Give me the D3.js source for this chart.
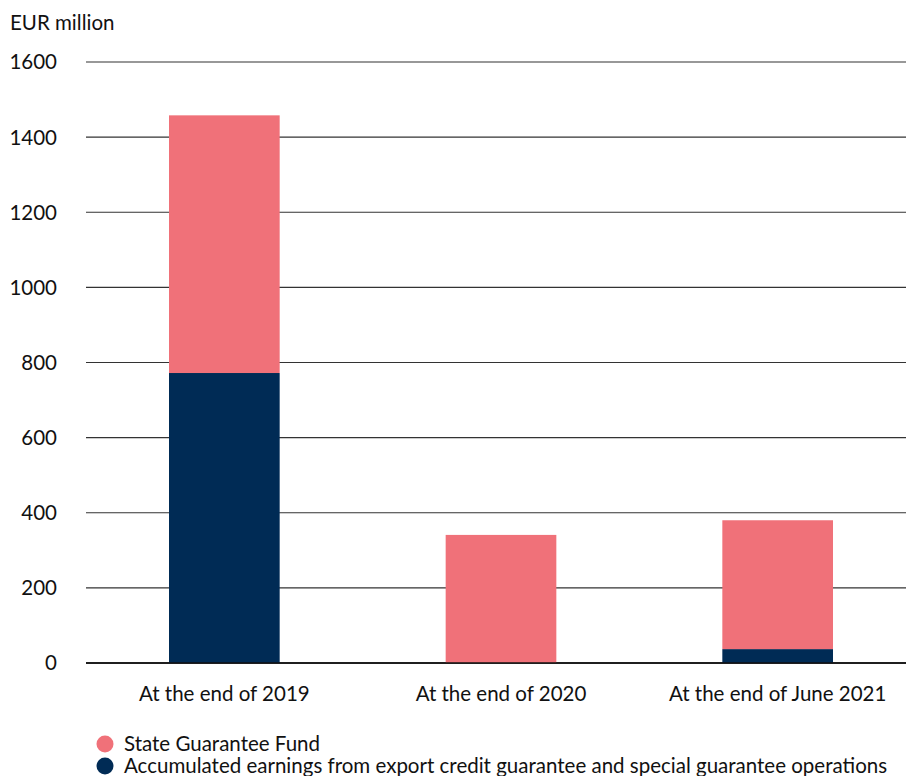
<!DOCTYPE html>
<html>
<head>
<meta charset="utf-8">
<script src="https://cdn.jsdelivr.net/npm/d3@7"></script>
<style>
  html, body { margin: 0; padding: 0; background: #fff; }
  svg text { font-family: Lato, "Open Sans", sans-serif; fill: #111; }
</style>
</head>
<body>
<svg id="chart" width="906" height="776"></svg>
<script>
const categories = ["At the end of 2019", "At the end of 2020", "At the end of June 2021"];
const accumulatedEarnings = [772, 0, 37];
const stateGuaranteeFund = [686, 341, 343];
const yTicks = [0, 200, 400, 600, 800, 1000, 1200, 1400, 1600];
const seriesNames = ["Accumulated earnings from export credit guarantee and special guarantee operations", "State Guarantee Fund"];
const legendOrder = ["State Guarantee Fund", "Accumulated earnings from export credit guarantee and special guarantee operations"];
const colors = { "State Guarantee Fund": "#f07179", "Accumulated earnings from export credit guarantee and special guarantee operations": "#002b55" };

const FS = 20.5;
const svg = d3.select("#chart");
const x = d3.scaleBand().domain(categories).range([86, 916]).paddingInner(0.6).paddingOuter(0.3);
const y = d3.scaleLinear().domain([0, 1600]).range([663, 62]);

// gridlines
svg.append("g").selectAll("line").data(yTicks).join("line")
  .attr("x1", 86).attr("x2", 906)
  .attr("y1", d => y(d)).attr("y2", d => y(d))
  .attr("stroke", d => d === 0 ? "#111" : "#333").attr("stroke-width", d => d === 0 ? 1.5 : 1.2);

// y tick labels
svg.append("g").selectAll("text").data(yTicks).join("text")
  .attr("x", 57).attr("y", d => y(d)).attr("dy", "0.36em")
  .attr("text-anchor", "end").attr("font-size", FS).text(d => d);

svg.append("text").attr("x", 10).attr("y", 30).attr("font-size", FS).text("EUR million");

// stacked bars
const rows = categories.map((c, i) => ({ cat: c, [seriesNames[0]]: accumulatedEarnings[i], [seriesNames[1]]: stateGuaranteeFund[i] }));
const stack = d3.stack().keys(seriesNames)(rows);
svg.append("g").selectAll("g").data(stack).join("g")
  .attr("fill", d => colors[d.key])
  .selectAll("rect").data(d => d).join("rect")
  .attr("x", d => x(d.data.cat)).attr("width", x.bandwidth())
  .attr("y", d => y(d[1])).attr("height", d => y(d[0]) - y(d[1]));

// redraw baseline on top
svg.append("line").attr("x1", 86).attr("x2", 906).attr("y1", y(0)).attr("y2", y(0))
  .attr("stroke", "#111").attr("stroke-width", 1.5);

// x labels
svg.append("g").selectAll("text").data(categories).join("text")
  .attr("x", d => x(d) + x.bandwidth() / 2).attr("y", 701)
  .attr("text-anchor", "middle").attr("font-size", FS).text(d => d);

// legend
const lg = svg.append("g").selectAll("g").data(legendOrder).join("g")
  .attr("transform", (d, i) => `translate(105, ${744 + i * 22})`);
lg.append("circle").attr("r", 8.5).attr("fill", d => colors[d]);
lg.append("text").attr("x", 19).attr("dy", "0.34em").attr("font-size", FS).text(d => d);
</script>
</body>
</html>
